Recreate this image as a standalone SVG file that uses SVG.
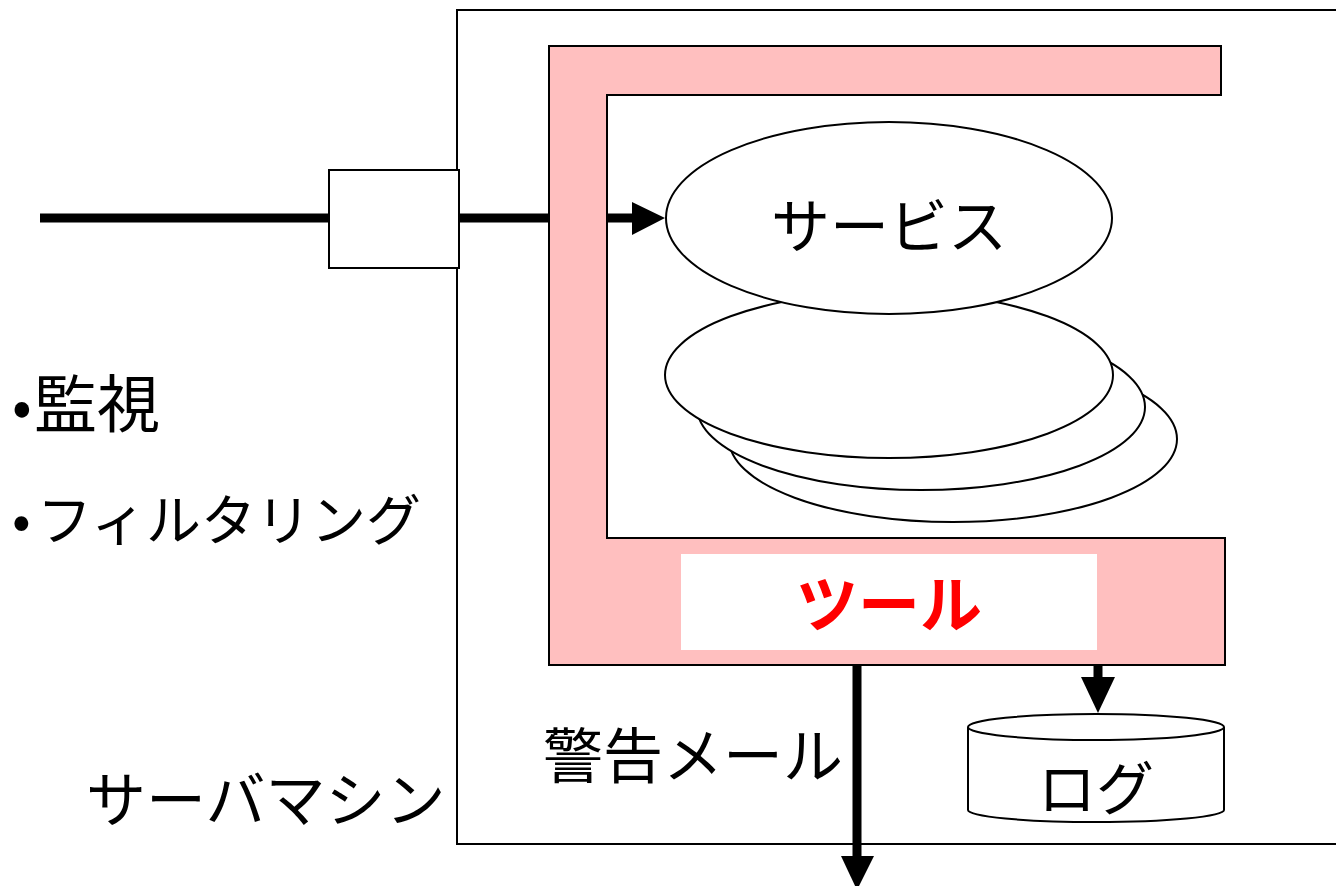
<svg xmlns="http://www.w3.org/2000/svg" width="1336" height="886" viewBox="0 0 1336 886">
<style>
.t{font-family:"Noto Sans CJK JP","Noto Sans CJK SC",sans-serif;fill:#000;}
.ln{stroke:#000;stroke-width:2;fill:#fff;}
.el{stroke:#000;stroke-width:2;fill:#fff;}
.conn{stroke:#000;stroke-width:9;fill:none;}
.head{fill:#000;}
</style>
<rect width="1336" height="886" fill="#fff"/>
<g id="server">
<rect class="ln" x="457" y="10" width="900" height="834"/>
<text class="t" x="86" y="822" font-size="60">サーバマシン</text>
</g>
<g id="connectors">
<line class="conn" x1="40" y1="218" x2="329" y2="218"/>
<line class="conn" x1="459" y1="218" x2="633" y2="218"/>
<path class="head" d="M632,202 L665,218 L632,235 Z"/>
<line class="conn" x1="857" y1="664" x2="857" y2="857"/>
<path class="head" d="M841,856 L874,856 L857,890 Z"/>
<line class="conn" x1="1098" y1="664" x2="1098" y2="678"/>
<path class="head" d="M1081,677 L1115,677 L1098,713 Z"/>
</g>
<g id="tool">
<path d="M549,46 H1221 V95 H607 V538 H1225 V665 H549 Z" fill="#ffbfbf" stroke="#000" stroke-width="2"/>
<rect x="681" y="554" width="416" height="96" fill="#fff"/>
<text x="889" y="628" font-size="62" font-weight="bold" text-anchor="middle" style="font-family:'Noto Sans CJK JP','Noto Sans CJK SC',sans-serif;fill:#ff0000">ツール</text>
</g>
<g id="services">
<ellipse class="el" cx="953" cy="439" rx="224" ry="83"/>
<ellipse class="el" cx="921" cy="407" rx="224" ry="83"/>
<ellipse class="el" cx="889" cy="375" rx="224" ry="83"/>
</g>
<g id="service">
<ellipse class="el" cx="889" cy="218" rx="223" ry="96"/>
<text class="t" x="889" y="248" font-size="59" text-anchor="middle">サービス</text>
</g>
<g id="filter">
<rect class="ln" x="329" y="170" width="130" height="98"/>
</g>
<g id="log">
<path class="ln" d="M968,727 A128,13 0 0,1 1224,727 V810 A128,12 0 0,1 968,810 Z"/>
<path d="M968,727 A128,13 0 0,0 1224,727" fill="none" stroke="#000" stroke-width="2"/>
<text class="t" x="1096" y="810" font-size="58" text-anchor="middle">ログ</text>
</g>
<g id="labels">
<text class="t" x="12" y="427" font-size="58">•</text>
<text class="t" x="34" y="427" font-size="63">監視</text>
<text class="t" x="12" y="540" font-size="55">•</text>
<text class="t" x="37" y="540" font-size="55">フィルタリング</text>
<text class="t" x="543" y="778" font-size="60">警告メール</text>
</g>
</svg>
